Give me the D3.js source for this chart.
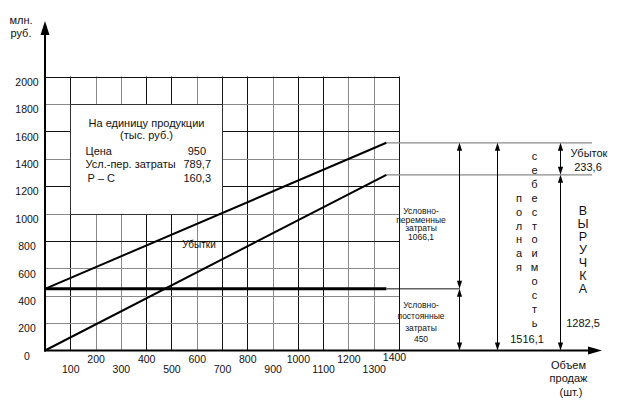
<!DOCTYPE html>
<html><head><meta charset="utf-8">
<script src="https://cdn.jsdelivr.net/npm/d3@7"></script>
<style>
body{margin:0;background:#fff}
svg{display:block}
text{font-family:"Liberation Sans",Arial,sans-serif;fill:#111}
</style>
</head><body>
<svg id="c" width="619" height="402"></svg>
<script>
// ---------- data ----------
const xTicks = [100,200,300,400,500,600,700,800,900,1000,1100,1200,1300,1400];
const yTicks = [0,200,400,600,800,1000,1200,1400,1600,1800,2000];
const volumeRange = [0, 1350];
const revenueValues = [0, 1282.5];
const totalCostValues = [450, 1516.1];
const fixedCostValues = [450, 450];
const unitTitle = ["На единицу продукции", "(тыс. руб.)"];
const unitRows = ["Цена", "Усл.-пер. затраты", "Р – С"];
const unitValues = [950, 789.7, 160.3];
const fixedCost = 450;
const variableCost = 1066.1;
const totalCost = 1516.1;
const revenue = 1282.5;
const loss = 233.6;
const yTitle = ["млн.", "руб."];
const xTitle = ["Объем", "продаж", "(шт.)"];

const fmt = v => String(v).replace(".", ",");

// ---------- layout ----------
const svg = d3.select("#c");
const x = d3.scaleLinear().domain([0, 1400]).range([45, 399]);
const y = d3.scaleLinear().domain([0, 2000]).range([350.5, 76.5]);
const X0 = x(0), Y0 = y(0);
const grayX = new Set([200,300,600,900,1200,1300]);
const grayY = new Set([200,400,600,1000,1400,1800]);
const dark = "#111", gray = "#8a8a8a";

// grid
const g = svg.append("g");
g.selectAll("line.vx").data(xTicks).join("line")
  .attr("x1", d => Math.round(x(d)) + 0.5).attr("x2", d => Math.round(x(d)) + 0.5)
  .attr("y1", y(2000)).attr("y2", Y0)
  .attr("stroke", d => grayX.has(d) ? gray : dark).attr("stroke-width", 1);
g.selectAll("line.hy").data(yTicks.filter(d => d > 0)).join("line")
  .attr("y1", d => Math.round(y(d)) + 0.5).attr("y2", d => Math.round(y(d)) + 0.5)
  .attr("x1", X0).attr("x2", x(1400))
  .attr("stroke", d => grayY.has(d) ? gray : dark).attr("stroke-width", 1);

// info box
const bx0 = Math.round(x(100)) + 0.5, bx1 = Math.round(x(700)) + 0.5;
const by0 = Math.round(y(1800)) + 0.5, by1 = Math.round(y(1000)) + 0.5;
svg.append("rect").attr("x", bx0).attr("y", by0).attr("width", bx1 - bx0).attr("height", by1 - by0)
  .attr("fill", "#fff").attr("stroke", "#333").attr("stroke-width", 1);
const bcx = (bx0 + bx1) / 2;
svg.append("g").selectAll("text").data(unitTitle).join("text")
  .attr("x", bcx).attr("y", (d, i) => 126.5 + i * 12.5)
  .attr("text-anchor", "middle").attr("font-size", 11).text(d => d);
svg.append("g").selectAll("text").data(unitRows).join("text")
  .attr("x", (d, i) => i === 2 ? 87.5 : 85.5).attr("y", (d, i) => 154.5 + i * 13.8)
  .attr("font-size", 11).text(d => d);
svg.append("g").selectAll("text").data(unitValues).join("text")
  .attr("x", (d, i) => i === 0 ? 206 : 211).attr("y", (d, i) => 154.5 + i * 13.8)
  .attr("text-anchor", "end").attr("font-size", 11).text(d => fmt(d));

// main lines
const lineGen = d3.line().x(d => x(d[0])).y(d => y(d[1]));
const pairs = vals => volumeRange.map((v, i) => [v, vals[i]]);
// extension lines
svg.append("line").attr("x1", x(1350)).attr("x2", 592).attr("y1", y(totalCost)).attr("y2", y(totalCost))
  .attr("stroke", gray).attr("stroke-width", 1.3);
svg.append("line").attr("x1", x(1350)).attr("x2", 592).attr("y1", y(revenue)).attr("y2", y(revenue))
  .attr("stroke", gray).attr("stroke-width", 1.3);
svg.append("line").attr("x1", x(1350)).attr("x2", 460).attr("y1", y(fixedCost)).attr("y2", y(fixedCost))
  .attr("stroke", dark).attr("stroke-width", 1);
svg.append("path").attr("d", lineGen(pairs(fixedCostValues))).attr("stroke", "#000").attr("stroke-width", 3).attr("fill", "none");
svg.append("path").attr("d", lineGen(pairs(totalCostValues))).attr("stroke", "#000").attr("stroke-width", 2).attr("fill", "none");
svg.append("path").attr("d", lineGen(pairs(revenueValues))).attr("stroke", "#000").attr("stroke-width", 2).attr("fill", "none");

svg.append("text").attr("x", 199).attr("y", 247.5).attr("text-anchor", "middle")
  .attr("font-size", 10).attr("fill", "#222").text("Убытки");

// axes lines with arrows
svg.append("line").attr("x1", X0).attr("x2", X0).attr("y1", Y0 + 1).attr("y2", 32).attr("stroke", "#000").attr("stroke-width", 2);
svg.append("path").attr("d", `M${X0},21 L${X0-4.5},35 L${X0+4.5},35 Z`).attr("fill", "#000");
svg.append("line").attr("x1", X0 - 1).attr("x2", 592).attr("y1", Y0).attr("y2", Y0).attr("stroke", "#000").attr("stroke-width", 2);
svg.append("path").attr("d", `M602,${Y0} L588,${Y0-4} L588,${Y0+4} Z`).attr("fill", "#000");

// tick labels via d3 axes
const ax = svg.append("g").attr("transform", `translate(0,${Y0})`)
  .call(d3.axisBottom(x).tickValues(xTicks).tickSize(0).tickFormat(d3.format("d")));
ax.select(".domain").remove();
ax.selectAll("text").attr("font-size", 10.5).attr("font-family", "Liberation Sans, Arial, sans-serif")
  .attr("fill", "#111").attr("dy", null)
  .attr("dx", d => d === 1400 ? -5 : 0)
  .attr("y", d => d === 1400 ? 10.5 : ((d / 100) % 2 === 0 ? 12.5 : 22));
const ay = svg.append("g").attr("transform", `translate(${X0},0)`)
  .call(d3.axisLeft(y).tickValues(yTicks).tickSize(0).tickFormat(d3.format("d")));
ay.select(".domain").remove();
ay.selectAll("text").attr("font-size", 10.5).attr("font-family", "Liberation Sans, Arial, sans-serif")
  .attr("fill", "#111").attr("text-anchor", "middle").attr("x", -18).attr("dy", null).attr("y", 8.8);

// axis titles
svg.append("g").selectAll("text").data(yTitle).join("text")
  .attr("x", 21).attr("y", (d, i) => 24 + i * 13).attr("text-anchor", "middle").attr("font-size", 11).text(d => d);
svg.append("g").selectAll("text").data(xTitle).join("text")
  .attr("x", (d, i) => i === 2 ? 571 : 568.5).attr("y", (d, i) => 369 + i * 13.3).attr("text-anchor", "middle").attr("font-size", 11).text(d => d);

// double-headed arrows
function dArrow(px, v1, v2) {
  const ya = y(v1), yb = y(v2); // ya top, yb bottom
  svg.append("line").attr("x1", px).attr("x2", px).attr("y1", ya + 3).attr("y2", yb - 3)
    .attr("stroke", "#000").attr("stroke-width", 1);
  svg.append("path").attr("d", `M${px},${ya} L${px-2.6},${ya+8} L${px+2.6},${ya+8} Z`).attr("fill", "#000");
  svg.append("path").attr("d", `M${px},${yb} L${px-2.6},${yb-8} L${px+2.6},${yb-8} Z`).attr("fill", "#000");
}
const colA = 459.5, colB = 497.5, colC = 560.5;
dArrow(colA, totalCost, fixedCost);
dArrow(colA, fixedCost, 0);
dArrow(colB, totalCost, 0);
dArrow(colC, totalCost, revenue);
dArrow(colC, revenue, 0);

// annotation texts
const small = svg.append("g").attr("font-size", 8.5);
const varLines = ["Условно-", "переменные", "затраты", fmt(variableCost)];
small.selectAll("text.v").data(varLines).join("text").attr("class", "v")
  .attr("x", 421).attr("y", (d, i) => 214 + i * 8.7).attr("text-anchor", "middle").text(d => d);
const fixLines = ["Условно-", "постоянные", "затраты", fmt(fixedCost)];
small.selectAll("text.f").data(fixLines).join("text").attr("class", "f")
  .attr("x", 421).attr("y", (d, i) => 308 + i * 11.3).attr("text-anchor", "middle").text(d => d);

const colText = svg.append("g").attr("font-size", 11).attr("text-anchor", "middle");
"себестоимость".split("").forEach((ch, i) => {
  colText.append("text").attr("x", 534.5).attr("y", 160 + i * 13.9).text(ch);
});
"полная".split("").forEach((ch, i) => {
  colText.append("text").attr("x", 519).attr("y", 160 + (i + 3) * 13.9).text(ch);
});
colText.append("text").attr("x", 527).attr("y", 343).text(fmt(totalCost));
const rev = svg.append("g").attr("font-size", 12.5).attr("text-anchor", "middle");
"ВЫРУЧКА".split("").forEach((ch, i) => {
  rev.append("text").attr("x", 583).attr("y", 214.5 + i * 13.1).text(ch);
});
rev.append("text").attr("x", 583).attr("y", 327).attr("font-size", 11).text(fmt(revenue));
svg.append("text").attr("x", 589).attr("y", 157).attr("text-anchor", "middle").attr("font-size", 11).text("Убыток");
svg.append("text").attr("x", 588).attr("y", 171).attr("text-anchor", "middle").attr("font-size", 11).text(fmt(loss));
</script>
</body></html>
